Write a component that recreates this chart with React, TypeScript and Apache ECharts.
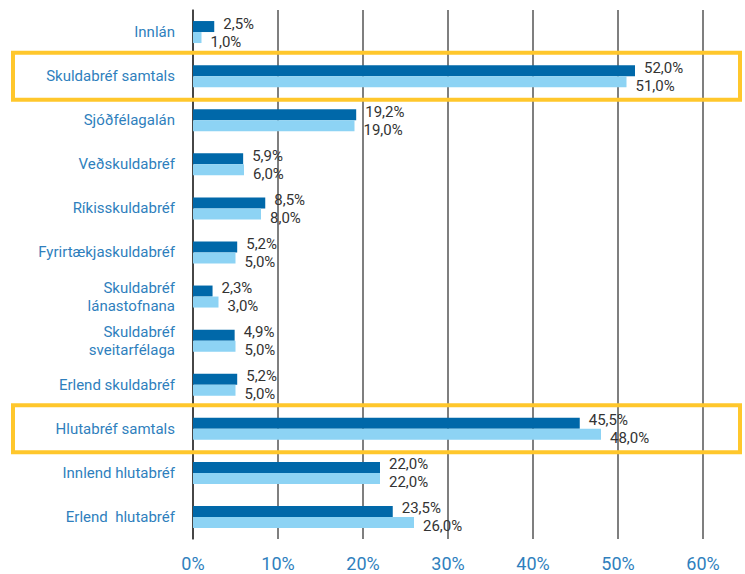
import React, { useEffect, useRef } from "react";
import * as echarts from "echarts";

const categories = [
  "Innlán",
  "Skuldabréf samtals",
  "Sjóðfélagalán",
  "Veðskuldabréf",
  "Ríkisskuldabréf",
  "Fyrirtækjaskuldabréf",
  "Skuldabréf\nlánastofnana",
  "Skuldabréf\nsveitarfélaga",
  "Erlend skuldabréf",
  "Hlutabréf samtals",
  "Innlend hlutabréf",
  "Erlend  hlutabréf",
];
const darkValues = [2.5, 52.0, 19.2, 5.9, 8.5, 5.2, 2.3, 4.9, 5.2, 45.5, 22.0, 23.5];
const lightValues = [1.0, 51.0, 19.0, 6.0, 8.0, 5.0, 3.0, 5.0, 5.0, 48.0, 22.0, 26.0];
const highlighted = ["Skuldabréf samtals", "Hlutabréf samtals"];
const xTicks = [0, 10, 20, 30, 40, 50, 60];

const FONT = "Roboto, 'DejaVu Sans', sans-serif";
const fmt = (v: number) => v.toFixed(1).replace(".", ",") + "%";

export default function App() {
  const ref = useRef<HTMLDivElement>(null);
  useEffect(() => {
    if (!ref.current) return;
    const chart = echarts.init(ref.current, undefined, { renderer: "svg" });
    const gridTop = 10;
    const gridHeight = 529;
    chart.setOption({
      animation: false,
      backgroundColor: "#ffffff",
      grid: { left: 193, right: 42, top: gridTop, height: gridHeight, containLabel: false },
      xAxis: {
        type: "value",
        min: xTicks[0],
        max: xTicks[xTicks.length - 1],
        interval: 10,
        axisLine: { show: false },
        axisTick: { show: false },
        splitLine: { show: true, lineStyle: { color: "#555555", width: 1.5 } },
        axisLabel: {
          formatter: (v: number) => v + "%",
          color: "#2f7fbd",
          fontSize: 18,
          fontFamily: FONT,
          margin: 15,
        },
      },
      yAxis: {
        type: "category",
        data: categories,
        inverse: true,
        axisLine: { show: true, lineStyle: { color: "#333333", width: 1.5 } },
        axisTick: { show: false },
        axisLabel: {
          color: "#2f7fbd",
          fontSize: 15,
          fontFamily: FONT,
          margin: 18,
          lineHeight: 18,
          align: "right",
        },
      },
      series: [
        {
          type: "bar",
          data: darkValues,
          barWidth: 11,
          barGap: "0%",
          itemStyle: { color: "#0068a9" },
          label: {
            show: true,
            position: "right",
            distance: 9,
            offset: [0, -3],
            formatter: (p: any) => fmt(p.value),
            color: "#333333",
            fontSize: 15,
            fontFamily: FONT,
          },
        },
        {
          type: "bar",
          data: lightValues,
          barWidth: 11,
          barGap: "0%",
          itemStyle: { color: "#8dd3f4" },
          label: {
            show: true,
            position: "right",
            distance: 9,
            offset: [0, 4],
            formatter: (p: any) => fmt(p.value),
            color: "#333333",
            fontSize: 15,
            fontFamily: FONT,
          },
        },
      ],
    });
    const width = chart.getWidth();
    const graphics = highlighted.map((name) => {
      const cy = chart.convertToPixel({ yAxisIndex: 0 }, categories.indexOf(name)) as number;
      return {
        type: "rect",
        shape: { x: 13, y: cy - 23.5, width: width - 18, height: 47 },
        style: { fill: "none", stroke: "#ffc72c", lineWidth: 4 },
        z: 10,
      };
    });
    chart.setOption({ graphic: graphics });
    return () => chart.dispose();
  }, []);
  return <div ref={ref} style={{ width: 745, height: 574, position: "absolute", left: 0, top: 0 }} />;
}
